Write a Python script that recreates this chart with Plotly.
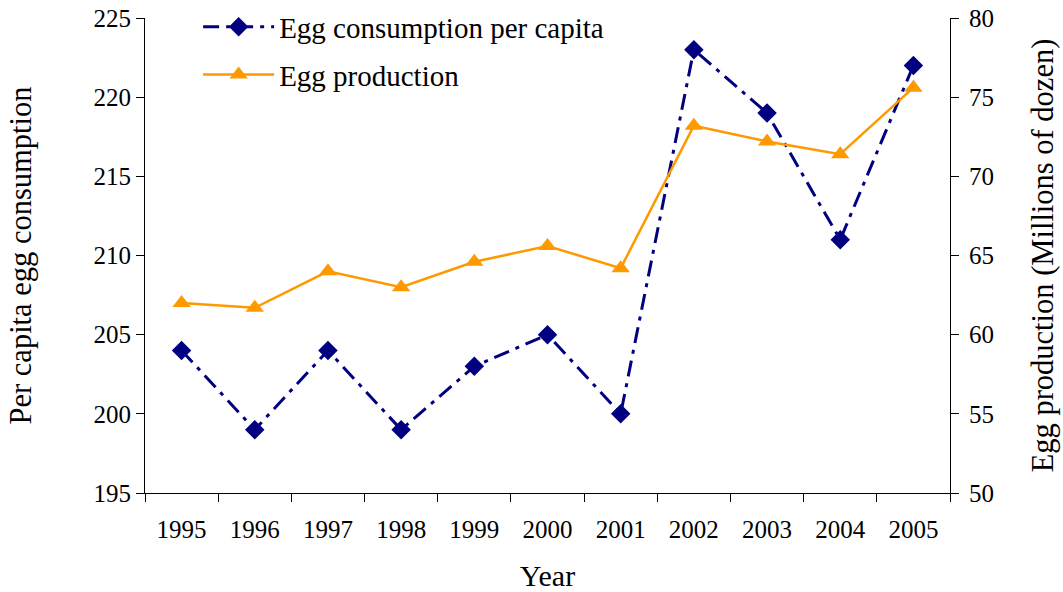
import plotly.graph_objects as go

years = ["1995", "1996", "1997", "1998", "1999", "2000", "2001", "2002", "2003", "2004", "2005"]
consumption = [204, 199, 204, 199, 203, 205, 200, 223, 219, 211, 222]
production = [62.0, 61.7, 64.0, 63.0, 64.6, 65.6, 64.2, 73.2, 72.2, 71.4, 75.6]

FONT = "Liberation Serif, Times New Roman, serif"

fig = go.Figure()
fig.add_trace(go.Scatter(
    x=years, y=consumption, name="Egg consumption per capita",
    mode="lines+markers", legendgroup="a",
    line=dict(color="#000080", width=3, dash="16px,7px,4px,7px"),
    marker=dict(symbol="diamond", size=15, color="#000080"),
    yaxis="y",
))
fig.add_trace(go.Scatter(
    x=years, y=production, name="Egg production",
    mode="lines+markers", legendgroup="b",
    line=dict(color="#FF9900", width=2.5),
    marker=dict(symbol="triangle-up", size=16, color="#FF9900"),
    yaxis="y2",
))

fig.update_layout(
    width=1063, height=592,
    margin=dict(l=145, r=113, t=18, b=99, autoexpand=False),
    paper_bgcolor="white", plot_bgcolor="white",
    font=dict(family=FONT, color="black", size=25),
    showlegend=True,
    legend=dict(x=0.066, y=1.035, xanchor="left", yanchor="top",
                font=dict(family=FONT, size=29), bgcolor="rgba(0,0,0,0)",
                itemwidth=71, traceorder="grouped", tracegroupgap=7),
    xaxis=dict(
        type="category", range=[-0.5, 10.5], tickson="boundaries",
        showline=True, linecolor="black", linewidth=1,
        ticks="outside", ticklen=8, tickcolor="black",
        showgrid=False, zeroline=False, automargin=False,
        tickfont=dict(size=25), ticklabelstandoff=14,
        title=dict(text="Year", font=dict(size=30), standoff=31),
    ),
    yaxis=dict(
        range=[195, 225], dtick=5,
        showline=True, linecolor="black", linewidth=1,
        ticks="outside", ticklen=8, tickcolor="black",
        showgrid=False, zeroline=False, automargin=False,
        tickfont=dict(size=25),
        title=dict(text="Per capita egg consumption", font=dict(size=30.5), standoff=52),
    ),
    yaxis2=dict(
        range=[50, 80], dtick=5, overlaying="y", side="right",
        showline=True, linecolor="black", linewidth=1,
        ticks="outside", ticklen=8, tickcolor="black",
        showgrid=False, zeroline=False, automargin=False,
        tickfont=dict(size=25), ticklabelstandoff=5,
        title=dict(text="Egg production (Millions of dozen)", font=dict(size=30.5), standoff=38),
    ),
    yaxis3=dict(
        range=[50, 80], dtick=5, overlaying="y", side="right",
        showline=False, ticks="inside", ticklen=8, tickcolor="black",
        showticklabels=False, showgrid=False, zeroline=False, automargin=False,
    ),
)

fig.write_html("out.html", config={"displayModeBar": False},
               post_script="document.body.style.margin='0';document.body.style.overflow='hidden';")
